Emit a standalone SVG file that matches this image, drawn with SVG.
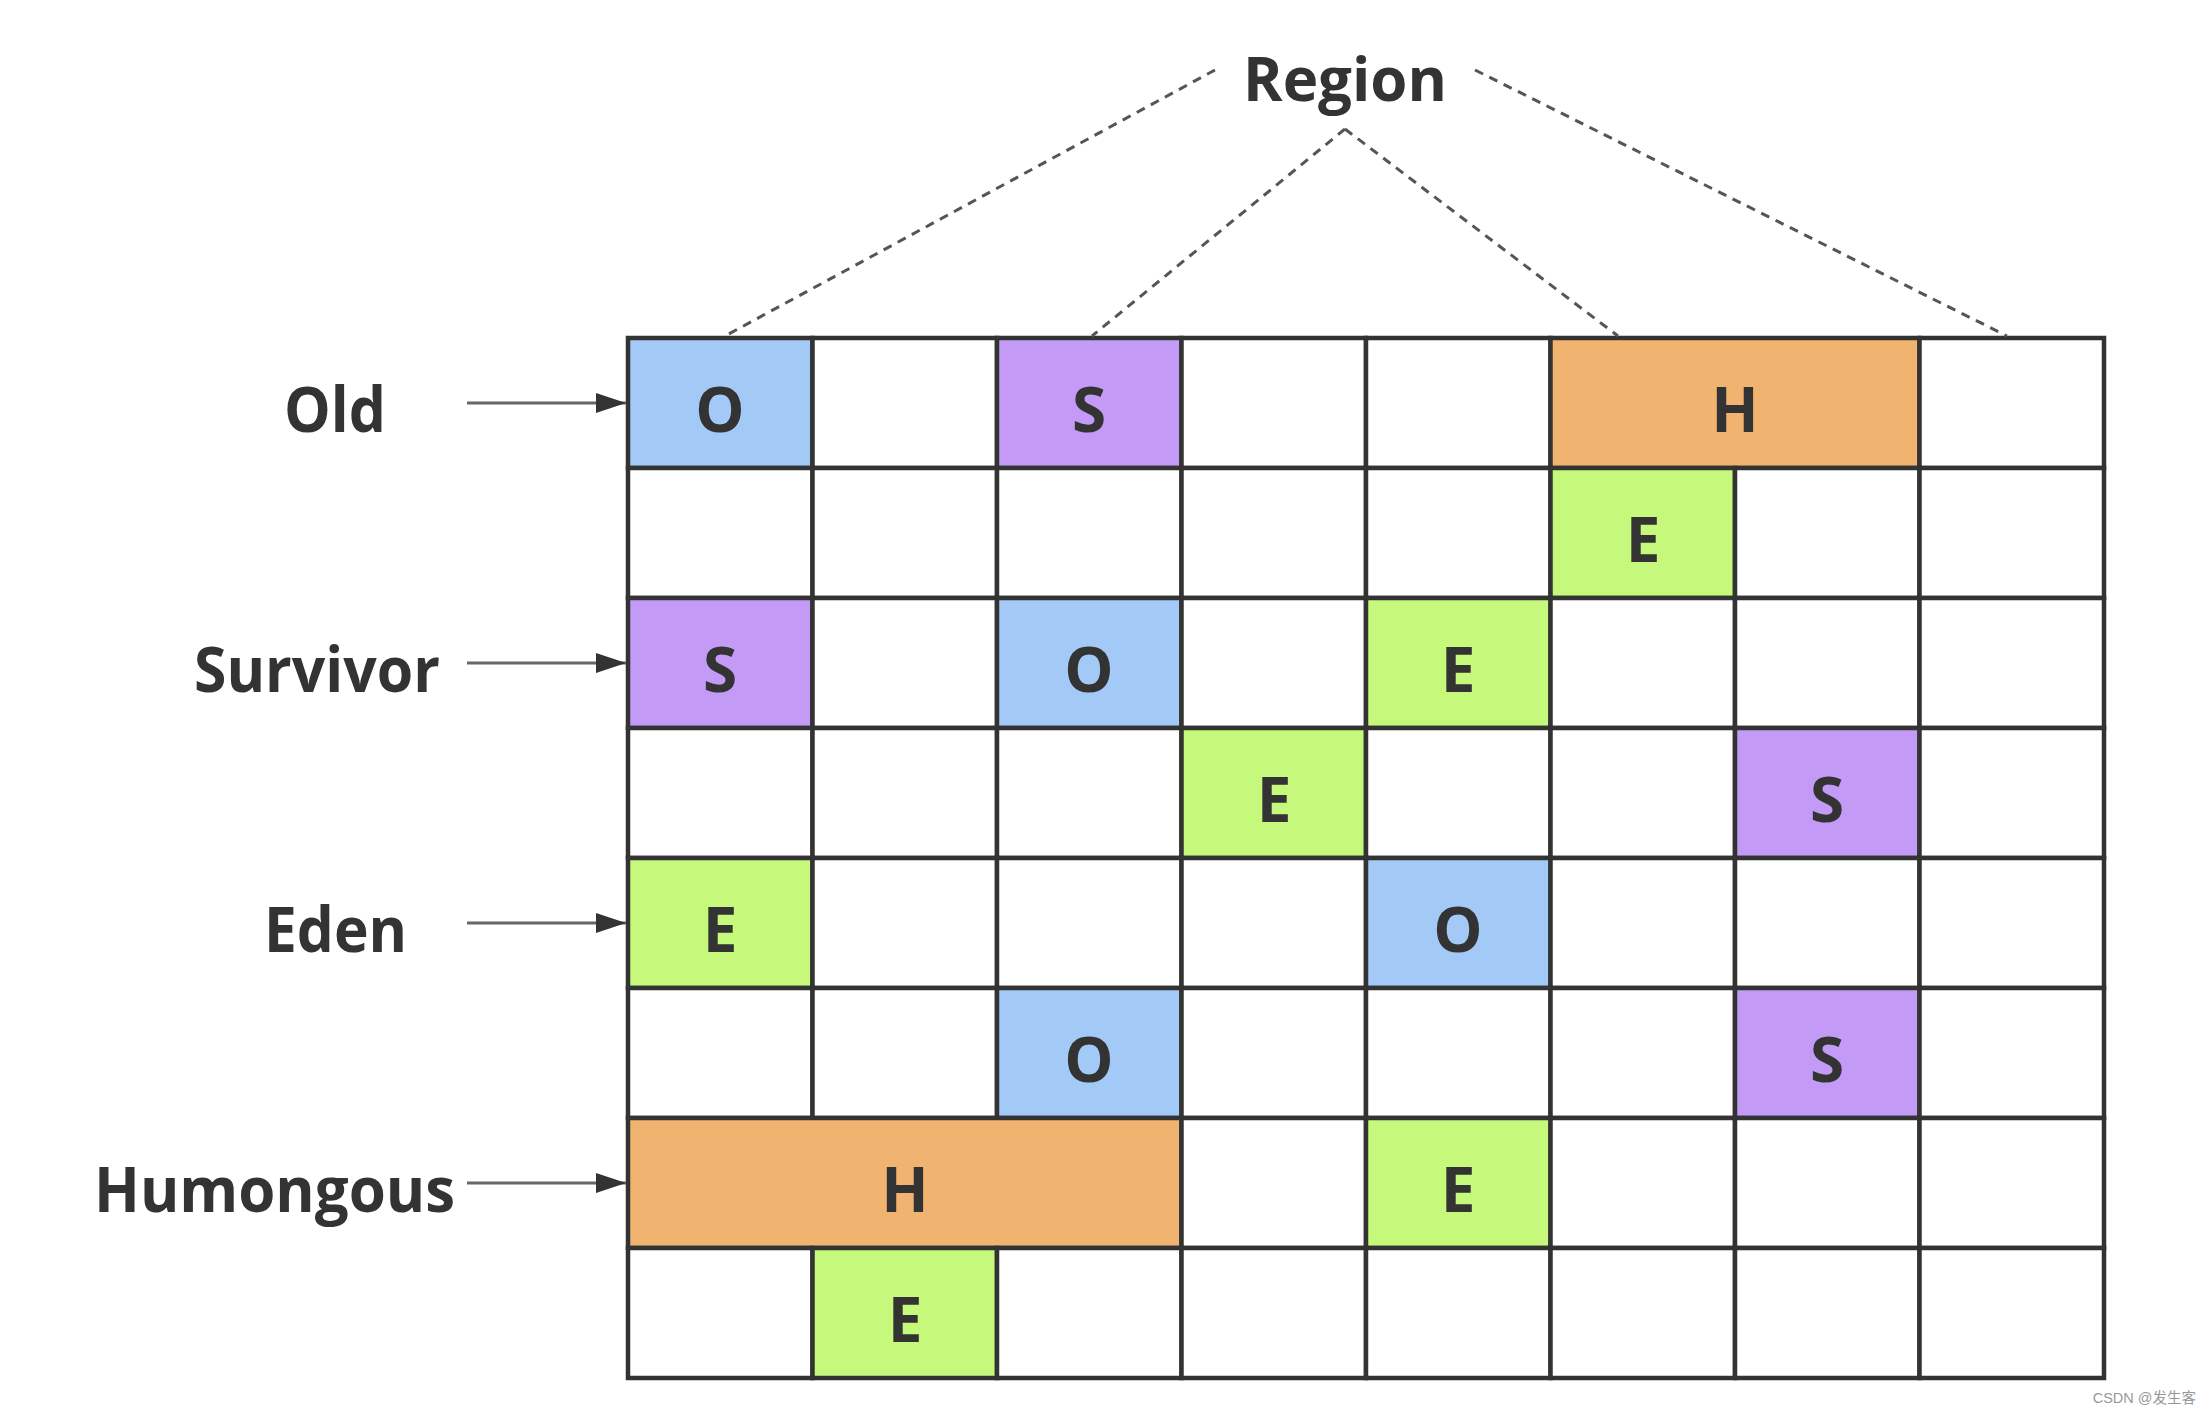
<svg xmlns="http://www.w3.org/2000/svg" width="2210" height="1414" viewBox="0 0 2210 1414">
<style>
.cell{stroke:#333333;stroke-width:4.5;fill:#ffffff}
.o{fill:#a3caf7}.s{fill:#c39bf6}.e{fill:#c6f97b}.h{fill:#f0b470}
.lt{font-family:"Open Sans","Liberation Sans",sans-serif;font-weight:bold;font-size:62px;fill:#333333}
.ct{font-family:"Open Sans","Liberation Sans",sans-serif;font-weight:bold;font-size:62px;fill:#333333;text-anchor:middle}
.dash{stroke:#555555;stroke-width:3;stroke-dasharray:9 7;fill:none}
.arr{stroke:#666666;stroke-width:3;fill:none}
</style>
<defs>
<marker id="ah" markerUnits="userSpaceOnUse" markerWidth="30" markerHeight="22" refX="30" refY="11" orient="auto">
<path d="M0,1 L30,11 L0,21 z" fill="#333333"/>
</marker>
</defs>
<rect width="2210" height="1414" fill="#ffffff"/>
<g id="region-label">
<text class="lt" x="1243" y="101" textLength="204" lengthAdjust="spacingAndGlyphs" style="font-size:60px">Region</text>
</g>
<g id="labels">
<text class="lt" x="284" y="432" textLength="102" lengthAdjust="spacingAndGlyphs">Old</text>
<text class="lt" x="194" y="692" textLength="246" lengthAdjust="spacingAndGlyphs">Survivor</text>
<text class="lt" x="264" y="952" textLength="143" lengthAdjust="spacingAndGlyphs">Eden</text>
<text class="lt" x="94" y="1212" textLength="361" lengthAdjust="spacingAndGlyphs">Humongous</text>
</g>
<g id="grid">
<!-- row 0 -->
<rect class="cell o" x="628" y="338" width="184.5" height="130"/>
<rect class="cell" x="812.5" y="338" width="184.5" height="130"/>
<rect class="cell s" x="997" y="338" width="184.5" height="130"/>
<rect class="cell" x="1181.5" y="338" width="184.5" height="130"/>
<rect class="cell" x="1366" y="338" width="184.5" height="130"/>
<rect class="cell h" x="1550.5" y="338" width="369" height="130"/>
<rect class="cell" x="1919.5" y="338" width="184.5" height="130"/>
<!-- row 1 -->
<rect class="cell" x="628" y="468" width="184.5" height="130"/>
<rect class="cell" x="812.5" y="468" width="184.5" height="130"/>
<rect class="cell" x="997" y="468" width="184.5" height="130"/>
<rect class="cell" x="1181.5" y="468" width="184.5" height="130"/>
<rect class="cell" x="1366" y="468" width="184.5" height="130"/>
<rect class="cell e" x="1550.5" y="468" width="184.5" height="130"/>
<rect class="cell" x="1735" y="468" width="184.5" height="130"/>
<rect class="cell" x="1919.5" y="468" width="184.5" height="130"/>
<!-- row 2 -->
<rect class="cell s" x="628" y="598" width="184.5" height="130"/>
<rect class="cell" x="812.5" y="598" width="184.5" height="130"/>
<rect class="cell o" x="997" y="598" width="184.5" height="130"/>
<rect class="cell" x="1181.5" y="598" width="184.5" height="130"/>
<rect class="cell e" x="1366" y="598" width="184.5" height="130"/>
<rect class="cell" x="1550.5" y="598" width="184.5" height="130"/>
<rect class="cell" x="1735" y="598" width="184.5" height="130"/>
<rect class="cell" x="1919.5" y="598" width="184.5" height="130"/>
<!-- row 3 -->
<rect class="cell" x="628" y="728" width="184.5" height="130"/>
<rect class="cell" x="812.5" y="728" width="184.5" height="130"/>
<rect class="cell" x="997" y="728" width="184.5" height="130"/>
<rect class="cell e" x="1181.5" y="728" width="184.5" height="130"/>
<rect class="cell" x="1366" y="728" width="184.5" height="130"/>
<rect class="cell" x="1550.5" y="728" width="184.5" height="130"/>
<rect class="cell s" x="1735" y="728" width="184.5" height="130"/>
<rect class="cell" x="1919.5" y="728" width="184.5" height="130"/>
<!-- row 4 -->
<rect class="cell e" x="628" y="858" width="184.5" height="130"/>
<rect class="cell" x="812.5" y="858" width="184.5" height="130"/>
<rect class="cell" x="997" y="858" width="184.5" height="130"/>
<rect class="cell" x="1181.5" y="858" width="184.5" height="130"/>
<rect class="cell o" x="1366" y="858" width="184.5" height="130"/>
<rect class="cell" x="1550.5" y="858" width="184.5" height="130"/>
<rect class="cell" x="1735" y="858" width="184.5" height="130"/>
<rect class="cell" x="1919.5" y="858" width="184.5" height="130"/>
<!-- row 5 -->
<rect class="cell" x="628" y="988" width="184.5" height="130"/>
<rect class="cell" x="812.5" y="988" width="184.5" height="130"/>
<rect class="cell o" x="997" y="988" width="184.5" height="130"/>
<rect class="cell" x="1181.5" y="988" width="184.5" height="130"/>
<rect class="cell" x="1366" y="988" width="184.5" height="130"/>
<rect class="cell" x="1550.5" y="988" width="184.5" height="130"/>
<rect class="cell s" x="1735" y="988" width="184.5" height="130"/>
<rect class="cell" x="1919.5" y="988" width="184.5" height="130"/>
<!-- row 6 -->
<rect class="cell h" x="628" y="1118" width="553.5" height="130"/>
<rect class="cell" x="1181.5" y="1118" width="184.5" height="130"/>
<rect class="cell e" x="1366" y="1118" width="184.5" height="130"/>
<rect class="cell" x="1550.5" y="1118" width="184.5" height="130"/>
<rect class="cell" x="1735" y="1118" width="184.5" height="130"/>
<rect class="cell" x="1919.5" y="1118" width="184.5" height="130"/>
<!-- row 7 -->
<rect class="cell" x="628" y="1248" width="184.5" height="130"/>
<rect class="cell e" x="812.5" y="1248" width="184.5" height="130"/>
<rect class="cell" x="997" y="1248" width="184.5" height="130"/>
<rect class="cell" x="1181.5" y="1248" width="184.5" height="130"/>
<rect class="cell" x="1366" y="1248" width="184.5" height="130"/>
<rect class="cell" x="1550.5" y="1248" width="184.5" height="130"/>
<rect class="cell" x="1735" y="1248" width="184.5" height="130"/>
<rect class="cell" x="1919.5" y="1248" width="184.5" height="130"/>
</g>
<g id="cell-labels">
<text class="ct" x="720" y="432">O</text>
<text class="ct" x="1089" y="432">S</text>
<text class="ct" x="1735" y="432">H</text>
<text class="ct" x="1643" y="562">E</text>
<text class="ct" x="720" y="692">S</text>
<text class="ct" x="1089" y="692">O</text>
<text class="ct" x="1458" y="692">E</text>
<text class="ct" x="1274" y="822">E</text>
<text class="ct" x="1827" y="822">S</text>
<text class="ct" x="720" y="952">E</text>
<text class="ct" x="1458" y="952">O</text>
<text class="ct" x="1089" y="1082">O</text>
<text class="ct" x="1827" y="1082">S</text>
<text class="ct" x="905" y="1212">H</text>
<text class="ct" x="1458" y="1212">E</text>
<text class="ct" x="905" y="1342">E</text>
</g>
<g id="connectors">
<line class="dash" x1="1215" y1="70" x2="725" y2="336"/>
<line class="dash" x1="1345" y1="129" x2="1092" y2="336"/>
<line class="dash" x1="1345" y1="129" x2="1618" y2="336"/>
<line class="dash" x1="1475" y1="70" x2="2007" y2="336"/>
<line class="arr" x1="467" y1="403" x2="626" y2="403" marker-end="url(#ah)"/>
<line class="arr" x1="467" y1="663" x2="626" y2="663" marker-end="url(#ah)"/>
<line class="arr" x1="467" y1="923" x2="626" y2="923" marker-end="url(#ah)"/>
<line class="arr" x1="467" y1="1183" x2="626" y2="1183" marker-end="url(#ah)"/>
</g>
<text x="2196" y="1403" text-anchor="end" font-family="'Liberation Sans','Noto Sans CJK SC',sans-serif" font-size="14.5" fill="#999999">CSDN @发生客</text>
</svg>
